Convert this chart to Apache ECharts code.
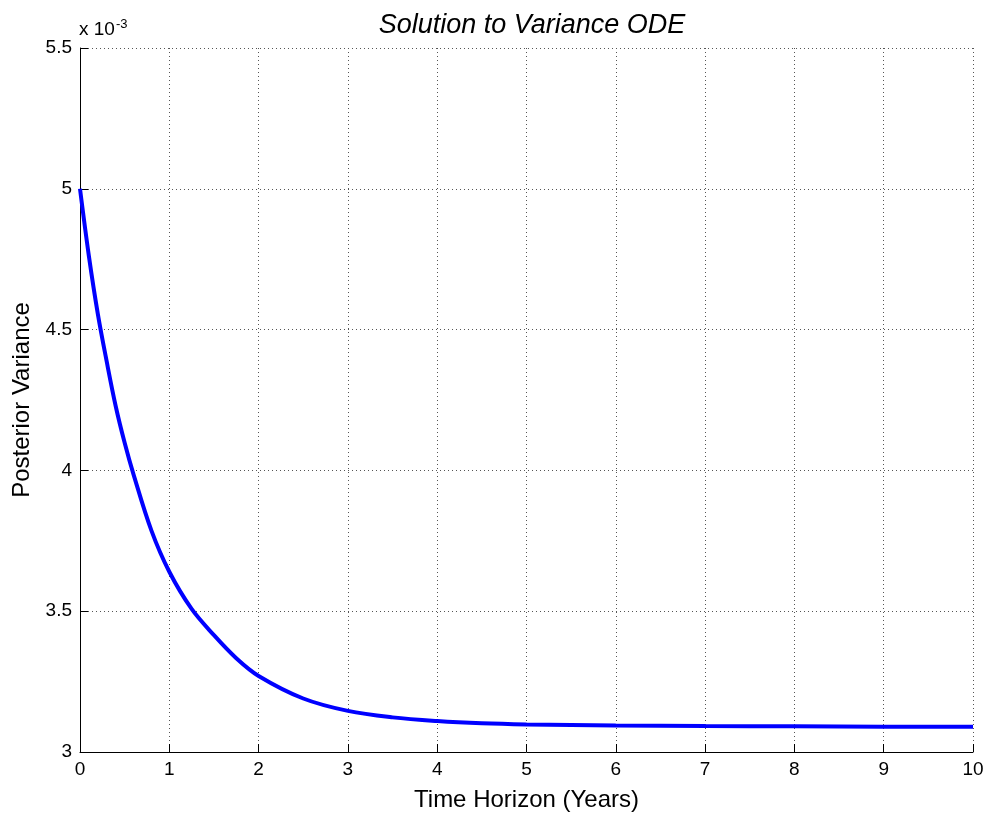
<!DOCTYPE html>
<html>
<head>
<meta charset="utf-8">
<script src="https://cdn.jsdelivr.net/npm/echarts@6/dist/echarts.min.js"></script>
<style>html,body{margin:0;padding:0;background:#fff;}#c{width:990px;height:817px;}</style>
</head>
<body>
<div id="c"></div>
<script>
// Time horizon (years)
var timeYears = [0, 0.1, 0.2, 0.3, 0.4, 0.5, 0.6, 0.8, 1.0, 1.25, 1.5, 1.75, 2, 2.5, 3, 3.5, 4, 4.5, 5, 6, 7, 8, 9, 10];
// Posterior variance, in units of 1e-3
var varianceE3 = [5.000, 4.760, 4.555, 4.385, 4.228, 4.098, 3.985, 3.786, 3.640, 3.508, 3.415, 3.333, 3.270, 3.190, 3.146, 3.123, 3.110, 3.102, 3.098, 3.094, 3.092, 3.091, 3.090, 3.090];
var xTicks = [0, 10, 1];
var yTicks = [3, 5.5, 0.5];

var font = 'Liberation Sans, Arial, sans-serif';
var data = timeYears.map(function (t, i) { return [t, varianceE3[i]]; });

var chart = echarts.init(document.getElementById('c'), null, {renderer: 'canvas'});
chart.setOption({
  animation: false,
  backgroundColor: '#fff',
  title: {
    text: 'Solution to Variance ODE',
    left: 527, top: 7, textAlign: 'center',
    textStyle: {fontFamily: font, fontStyle: 'italic', fontWeight: 'normal', fontSize: 27, color: '#000'}
  },
  grid: {left: 80, right: 17, top: 48, bottom: 64, containLabel: false},
  xAxis: {
    type: 'value', min: xTicks[0], max: xTicks[1], interval: xTicks[2],
    name: 'Time Horizon (Years)', nameLocation: 'middle', nameGap: 36,
    nameTextStyle: {fontFamily: font, fontSize: 24, color: '#000'},
    axisLine: {show: true, lineStyle: {color: '#000', width: 1}},
    axisTick: {show: true, inside: true, length: 8, lineStyle: {color: '#000'}},
    axisLabel: {fontFamily: font, fontSize: 19, color: '#000', margin: 8},
    splitLine: {show: true, lineStyle: {color: '#555', type: [1, 3], width: 1}}
  },
  yAxis: {
    type: 'value', min: yTicks[0], max: yTicks[1], interval: yTicks[2],
    name: 'Posterior Variance', nameLocation: 'middle', nameGap: 46, nameRotate: 90,
    nameTextStyle: {fontFamily: font, fontSize: 24, color: '#000'},
    axisLine: {show: true, lineStyle: {color: '#000', width: 1}},
    axisTick: {show: true, inside: true, length: 8, lineStyle: {color: '#000'}},
    axisLabel: {fontFamily: font, fontSize: 19, color: '#000', margin: 8},
    splitLine: {show: true, lineStyle: {color: '#555', type: [1, 3], width: 1}}
  },
  graphic: [{
    type: 'text', left: 79, top: 18,
    style: {
      text: '{b|x 10}{s|-3}',
      rich: {
        b: {fontFamily: font, fontSize: 19, color: '#000'},
        s: {fontFamily: font, fontSize: 13, color: '#000', verticalAlign: 'top', padding: [0, 0, 10, 1]}
      }
    }
  }],
  series: [{
    type: 'line', data: data, showSymbol: false,
    smooth: 0.35,
    lineStyle: {color: '#0000ff', width: 4},
    itemStyle: {color: '#0000ff'}
  }]
});
</script>
</body>
</html>
